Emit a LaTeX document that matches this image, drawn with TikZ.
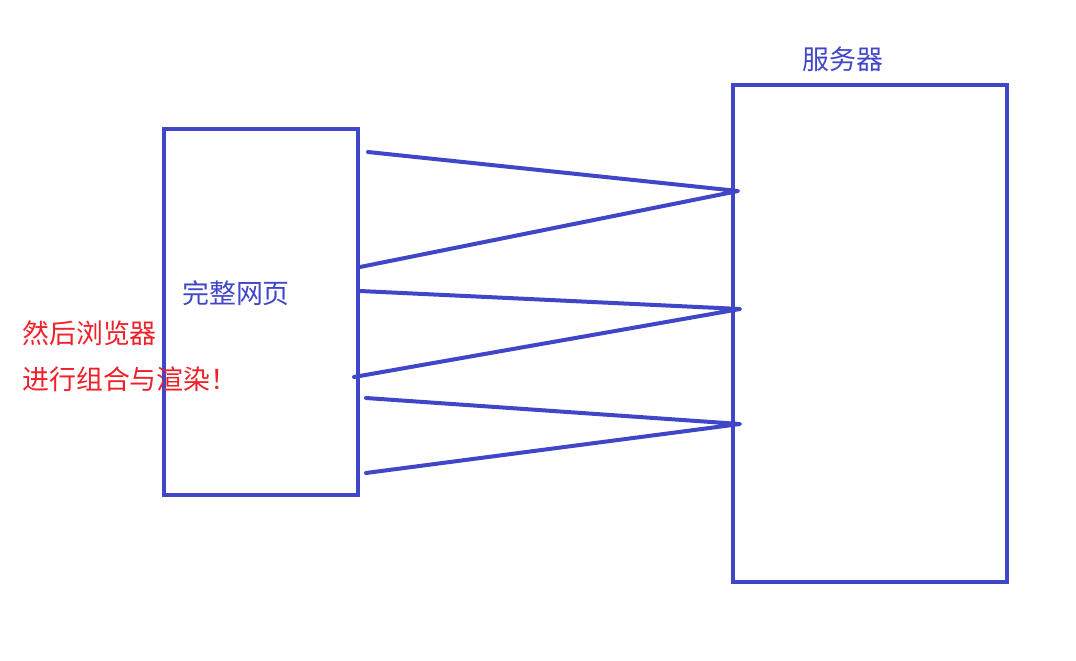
\documentclass[tikz,border=0pt]{standalone}
\usepackage{fontspec}
\newfontfamily\cjk{Noto Sans CJK SC}
\usetikzlibrary{positioning}
\definecolor{penblue}{HTML}{4046C8}
\definecolor{penred}{HTML}{F0202A}
\tikzset{
  box/.style={rectangle, draw=penblue, line width=3pt, inner sep=0pt},
  wire/.style={penblue, line width=3pt, line cap=round, line join=round},
  bluelabel/.style={text=penblue, font=\cjk\fontsize{20.2}{24}\selectfont, inner sep=0pt},
  redlabel/.style={text=penred, font=\cjk\fontsize{20.2}{24}\selectfont, inner sep=0pt, anchor=west}
}

\begin{document}
\begin{tikzpicture}[x=0.75pt, y=-0.75pt]
  \useasboundingbox (0,0) rectangle (1076,661);
  \node[box, minimum width=145.5pt, minimum height=274.5pt] (page) at (261,312) {};
  \node[box, minimum width=205.5pt, minimum height=372.75pt] (server) at (870,333.5) {};
  \node[bluelabel] (pagetext) at (236,293) {完整网页};
  \node[bluelabel] (servertext) at (843,59) {服务器};
  \node[redlabel] (combine1) at (22,333) {然后浏览器};
  \node[redlabel] (combine2) at (22,379) {进行组合与渲染！};
  % request ends at the page
  \coordinate (a1) at (368,152);
  \coordinate (a2) at (360,267);
  \coordinate (b1) at (360,291);
  \coordinate (b2) at (354,377);
  \coordinate (c1) at (366,398);
  \coordinate (c2) at (366,473);
  % meeting points on the server
  \coordinate (s1) at (738,191);
  \coordinate (s2) at (740,309);
  \coordinate (s3) at (740,424);
  \draw[wire] (a1) -- (s1) -- (a2);
  \draw[wire] (b1) -- (s2) -- (b2);
  \draw[wire] (c1) -- (s3) -- (c2);
\end{tikzpicture}
\end{document}
